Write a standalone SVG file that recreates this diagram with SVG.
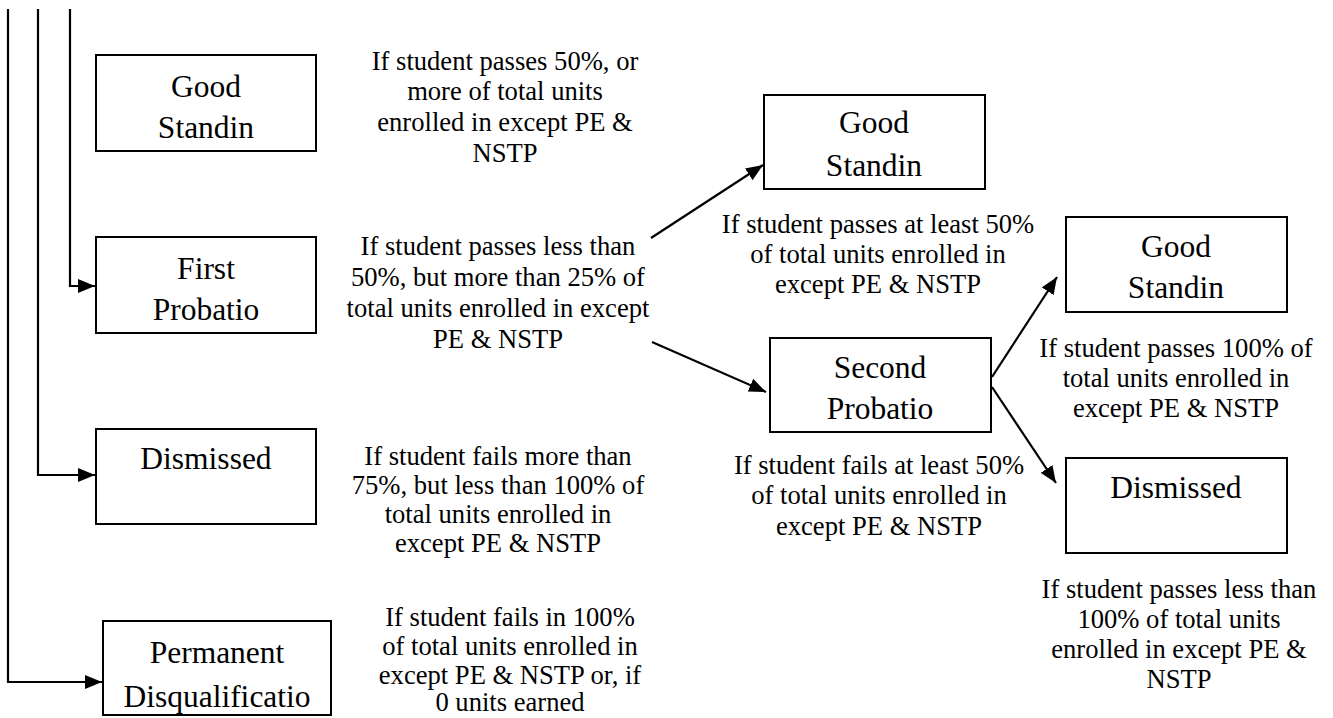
<svg xmlns="http://www.w3.org/2000/svg" width="1333" height="718" viewBox="0 0 1333 718">
<style>
.box{fill:#fff;stroke:#000;stroke-width:2}
.bt{font-size:31.5px;text-anchor:middle;fill:#000}
.dt{font-size:26.6px;text-anchor:middle;fill:#000}
.ln{fill:none;stroke:#000;stroke-width:2.2}
</style>
<defs>
<marker id="ah" markerUnits="userSpaceOnUse" markerWidth="18" markerHeight="14" refX="17" refY="7" orient="auto">
<path d="M0,0 L17,7 L0,14 z" fill="#000"/>
</marker>
</defs>
<rect width="1333" height="718" fill="#fff"/>
<g id="connectors">
<polyline class="ln" points="70,9 70,286 95,286" marker-end="url(#ah)"/>
<polyline class="ln" points="38,9 38,475 95,475" marker-end="url(#ah)"/>
<polyline class="ln" points="8,9 8,682 102,682" marker-end="url(#ah)"/>
<line class="ln" x1="651" y1="238" x2="763" y2="165" marker-end="url(#ah)"/>
<line class="ln" x1="652" y1="342" x2="766" y2="392" marker-end="url(#ah)"/>
<line class="ln" x1="992" y1="377" x2="1057" y2="277" marker-end="url(#ah)"/>
<line class="ln" x1="992" y1="387" x2="1056" y2="483" marker-end="url(#ah)"/>
</g>
<g font-family="'Liberation Serif', 'DejaVu Serif', serif">
<g id="good1">
<rect class="box" x="96" y="55" width="220" height="96"/>
<text class="bt" x="206" y="97">Good</text>
<text class="bt" x="206" y="138">Standin</text>
</g>
<g id="first">
<rect class="box" x="96" y="237" width="220" height="96"/>
<text class="bt" x="206" y="279">First</text>
<text class="bt" x="206" y="320">Probatio</text>
</g>
<g id="dismissed1">
<rect class="box" x="96" y="429" width="220" height="95"/>
<text class="bt" x="206" y="469">Dismissed</text>
</g>
<g id="permanent">
<rect class="box" x="103" y="621" width="228" height="94"/>
<text class="bt" x="217" y="663">Permanent</text>
<text class="bt" x="217" y="707">Disqualificatio</text>
</g>
<g id="good2">
<rect class="box" x="764" y="95" width="221" height="94"/>
<text class="bt" x="874" y="133">Good</text>
<text class="bt" x="874" y="176">Standin</text>
</g>
<g id="second">
<rect class="box" x="770" y="338" width="221" height="94"/>
<text class="bt" x="880" y="378">Second</text>
<text class="bt" x="880" y="419">Probatio</text>
</g>
<g id="good3">
<rect class="box" x="1066" y="217" width="221" height="95"/>
<text class="bt" x="1176" y="257">Good</text>
<text class="bt" x="1176" y="298">Standin</text>
</g>
<g id="dismissed2">
<rect class="box" x="1066" y="458" width="221" height="95"/>
<text class="bt" x="1176" y="498">Dismissed</text>
</g>
<g id="labels">
<text class="dt" x="505" y="70">If student passes 50%, or</text>
<text class="dt" x="505" y="100">more of total units</text>
<text class="dt" x="505" y="131">enrolled in except PE &amp;</text>
<text class="dt" x="505" y="162">NSTP</text>

<text class="dt" x="498" y="255">If student passes less than</text>
<text class="dt" x="498" y="286">50%, but more than 25% of</text>
<text class="dt" x="498" y="317">total units enrolled in except</text>
<text class="dt" x="498" y="348">PE &amp; NSTP</text>

<text class="dt" x="498" y="465">If student fails more than</text>
<text class="dt" x="498" y="494">75%, but less than 100% of</text>
<text class="dt" x="498" y="523">total units enrolled in</text>
<text class="dt" x="498" y="552">except PE &amp; NSTP</text>

<text class="dt" x="510" y="626">If student fails in 100%</text>
<text class="dt" x="510" y="655">of total units enrolled in</text>
<text class="dt" x="510" y="684">except PE &amp; NSTP or, if</text>
<text class="dt" x="510" y="711">0 units earned</text>

<text class="dt" x="878" y="233">If student passes at least 50%</text>
<text class="dt" x="878" y="263">of total units enrolled in</text>
<text class="dt" x="878" y="293">except PE &amp; NSTP</text>

<text class="dt" x="879" y="474">If student fails at least 50%</text>
<text class="dt" x="879" y="504">of total units enrolled in</text>
<text class="dt" x="879" y="535">except PE &amp; NSTP</text>

<text class="dt" x="1176" y="357">If student passes 100% of</text>
<text class="dt" x="1176" y="387">total units enrolled in</text>
<text class="dt" x="1176" y="417">except PE &amp; NSTP</text>

<text class="dt" x="1179" y="598">If student passes less than</text>
<text class="dt" x="1179" y="628">100% of total units</text>
<text class="dt" x="1179" y="658">enrolled in except PE &amp;</text>
<text class="dt" x="1179" y="688">NSTP</text>
</g>
</g>
</svg>
